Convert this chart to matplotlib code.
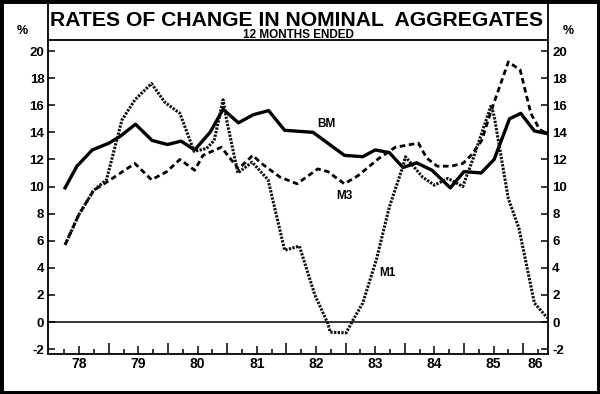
import matplotlib
matplotlib.use("Agg")
import matplotlib.pyplot as plt
from matplotlib.lines import Line2D
from matplotlib.patches import Rectangle

plt.rcParams["font.family"] = ["Liberation Sans", "DejaVu Sans"]
plt.rcParams["font.weight"] = "bold"

# 數值：12 個月變動率（%），時間以年份小數表示
bm_t = [1978.26, 1978.46, 1978.72, 1979.00, 1979.19, 1979.45, 1979.73, 1979.99,
        1980.22, 1980.45, 1980.71, 1980.93, 1981.19, 1981.44, 1981.70, 1981.97,
        1982.45, 1982.98, 1983.29, 1983.50, 1983.74, 1983.97, 1984.20, 1984.46,
        1984.77, 1985.00, 1985.29, 1985.51, 1985.77, 1985.96, 1986.19, 1986.41]
bm = [9.9, 11.5, 12.7, 13.2, 13.7, 14.6, 13.4, 13.1,
      13.35, 12.7, 14.0, 15.7, 14.7, 15.3, 15.6, 14.15,
      14.0, 12.3, 12.2, 12.7, 12.5, 11.4, 11.75, 11.2,
      9.9, 11.1, 11.0, 12.0, 15.0, 15.4, 14.1, 13.9]

m3_t = [1978.26, 1978.49, 1978.74, 1978.99, 1979.44, 1979.72, 1979.98, 1980.20,
        1980.45, 1980.59, 1980.90, 1981.19, 1981.43, 1981.58, 1981.89, 1982.18,
        1982.53, 1982.70, 1982.98, 1983.21, 1983.57, 1983.84, 1984.23, 1984.37,
        1984.55, 1984.78, 1984.98, 1985.12, 1985.30, 1985.46, 1985.75, 1985.95,
        1986.13, 1986.28, 1986.41]
m3 = [5.7, 7.9, 9.7, 10.4, 11.7, 10.5, 11.1, 12.0,
      11.2, 12.3, 12.9, 11.3, 12.3, 11.7, 10.7, 10.2,
      11.3, 11.1, 10.2, 10.8, 12.1, 12.9, 13.2, 12.1,
      11.5, 11.5, 11.7, 12.3, 13.4, 15.6, 19.2, 18.6,
      15.4, 14.2, 13.9]

m1_t = [1978.26, 1978.49, 1978.74, 1978.96, 1979.22, 1979.44, 1979.72, 1979.95,
        1980.20, 1980.44, 1980.65, 1980.78, 1980.93, 1980.99, 1981.18, 1981.42,
        1981.69, 1981.97, 1982.22, 1982.48, 1982.70, 1982.74, 1983.01, 1983.12,
        1983.29, 1983.52, 1983.74, 1983.97, 1984.01, 1984.30, 1984.50, 1984.73,
        1984.98, 1985.15, 1985.46, 1985.51, 1985.75, 1985.93, 1986.19, 1986.41]
m1 = [5.7, 7.9, 9.7, 10.5, 14.9, 16.4, 17.6, 16.2,
      15.4, 12.6, 12.8, 13.4, 16.4, 14.9, 11.0, 11.8,
      10.5, 5.3, 5.6, 2.0, -0.1, -0.75, -0.8, 0.1,
      1.4, 4.6, 8.5, 11.5, 12.2, 10.7, 10.1, 10.6,
      10.0, 12.0, 16.0, 15.2, 9.1, 6.9, 1.4, 0.3]

years = ["78", "79", "80", "81", "82", "83", "84", "85", "86"]
year_pos = [1978.5, 1979.5, 1980.5, 1981.5, 1982.5, 1983.5, 1984.5, 1985.5, 1986.2]
y_ticks = list(range(-2, 21, 2))

W, H = 600, 394
fig = plt.figure(figsize=(W / 100, H / 100), dpi=100)
L, R, T, B = 48.5, 548, 39.5, 354
ax = fig.add_axes([L / W, 1 - B / H, (R - L) / W, (B - T) / H])

ax.plot(bm_t, bm, color="black", lw=2.4)
ax.plot(m3_t, m3, color="black", lw=2.0, dashes=(2.0, 1.3))
ax.plot(m1_t, m1, color="#111111", lw=2.2, dashes=(0.75, 0.45))
ax.axhline(0, color="black", lw=1.1)

for s in ax.spines.values():
    s.set_linewidth(1.3)

ax.set_yticks(y_ticks)
ax.set_yticklabels([str(v) for v in y_ticks])
ax.tick_params(axis="y", direction="in", length=5, width=1.1, left=True, right=True,
               labelleft=True, labelright=True, labelsize=9.5, pad=3)

ax.set_xticks(range(1979, 1987))
ax.set_xticks([y + q for y in range(1978, 1987) for q in (0.25, 0.75)], minor=True)
ax.tick_params(axis="x", which="major", direction="in", length=8, width=1.1, labelbottom=False)
ax.tick_params(axis="x", which="minor", direction="in", length=3.5, width=1.1)

half = ax.secondary_xaxis("bottom")
half.set_xticks([y + 0.5 for y in range(1978, 1986)])
half.tick_params(direction="in", length=5.5, width=1.1, labelbottom=False)
half.spines["bottom"].set_visible(False)

lab = ax.secondary_xaxis("bottom")
lab.set_xticks(year_pos)
lab.set_xticklabels(years)
lab.tick_params(length=0, labelsize=10, pad=2)
lab.spines["bottom"].set_visible(False)

# set_xticks 會撐大範圍，所以最後才定界
ax.set_xlim(1977.98, 1986.42)
ax.set_ylim(-2.36, 20.85)

ax.text(1982.67, 14.65, "BM", ha="center", va="center", fontsize=8.5)
ax.text(1982.98, 9.3, "M3", ha="center", va="center", fontsize=8.5)
ax.text(1983.71, 3.6, "M1", ha="center", va="center", fontsize=8.5)

# 標題框與外框
for x in (L, R):
    fig.add_artist(Line2D([x / W, x / W], [1 - T / H, 1.0], color="black", lw=1.3))
fig.add_artist(Rectangle((0, 0), 1, 1, transform=fig.transFigure, fill=False,
                         edgecolor="black", lw=5))

fig.text(297 / W, 1 - 25.5 / H, "RATES OF CHANGE IN NOMINAL  AGGREGATES",
         ha="center", va="baseline", fontsize=15.2)
fig.text(298 / W, 1 - 37.5 / H, "12 MONTHS ENDED", ha="center", va="baseline", fontsize=8.5)
fig.text(22 / W, 1 - 31 / H, "%", ha="center", va="center", fontsize=9)
fig.text(568 / W, 1 - 31 / H, "%", ha="center", va="center", fontsize=9)

fig.savefig("out.png", dpi=100)
